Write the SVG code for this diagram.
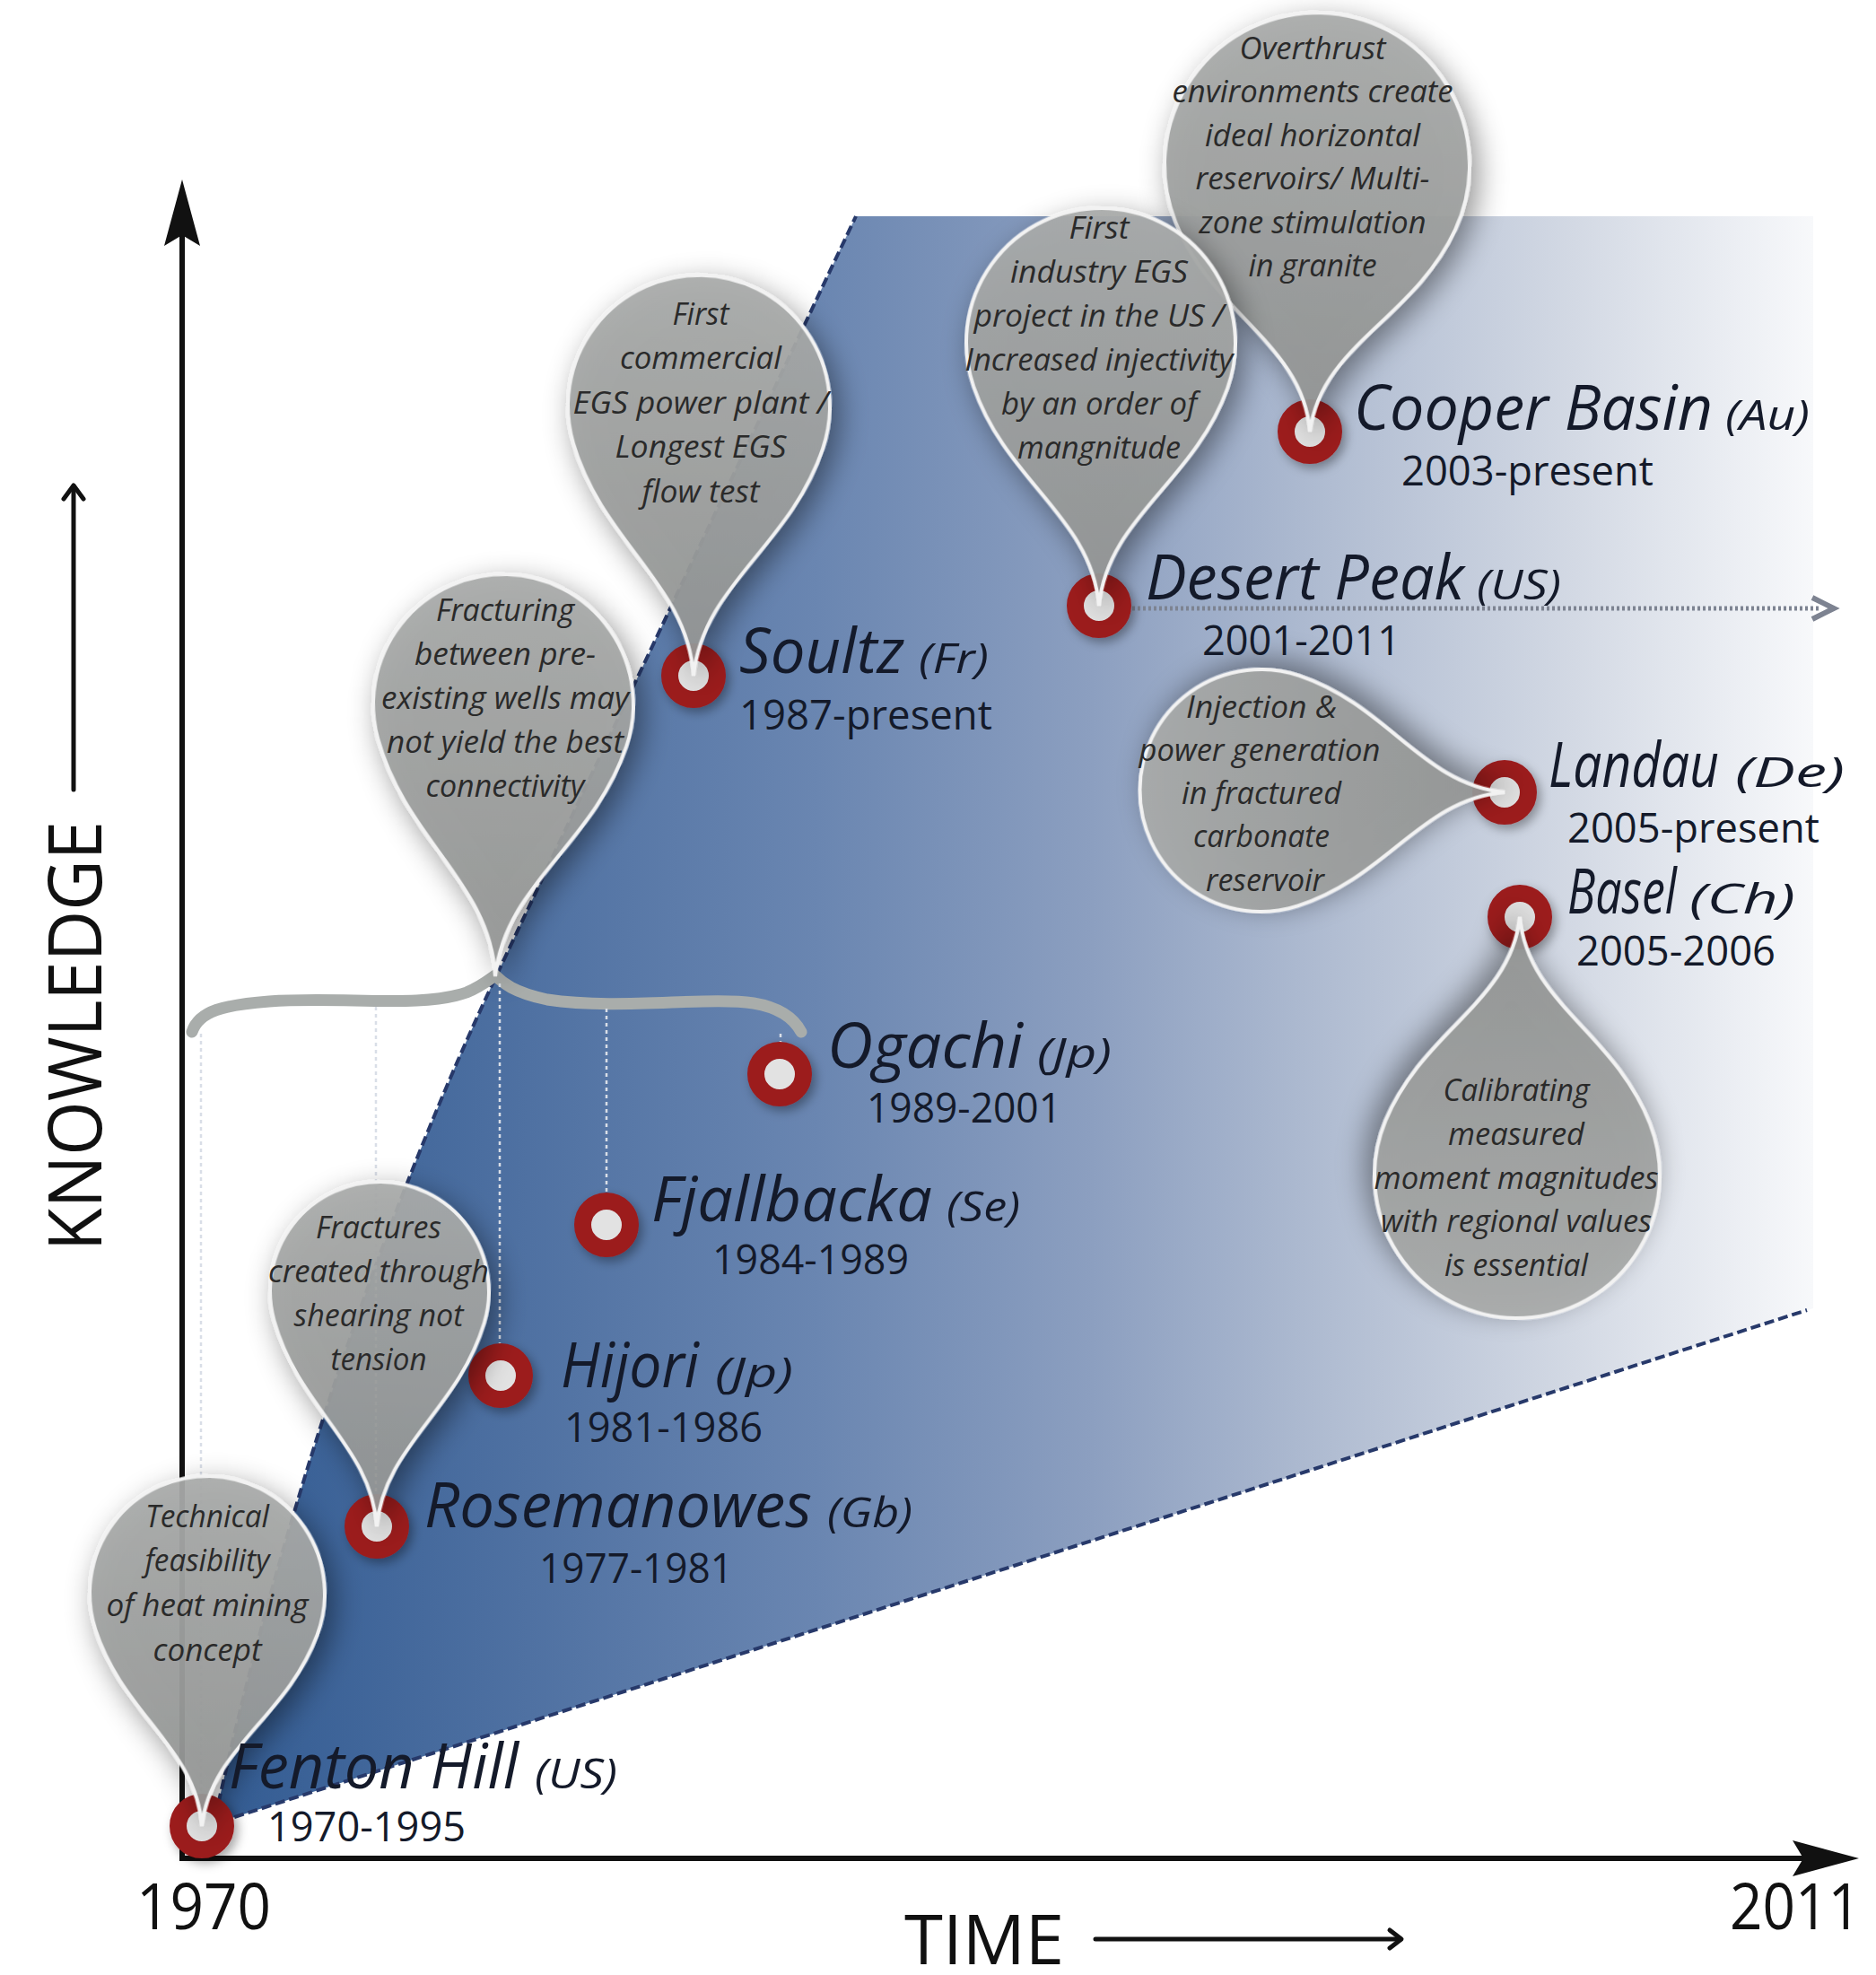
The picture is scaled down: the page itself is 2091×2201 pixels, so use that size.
<svg xmlns="http://www.w3.org/2000/svg" width="2091" height="2201" viewBox="0 0 2091 2201">
<defs>
  <linearGradient id="regionGrad" gradientUnits="userSpaceOnUse" x1="230" y1="0" x2="2025" y2="0">
    <stop offset="0" stop-color="#325b92"/>
    <stop offset="0.2" stop-color="#4f71a2"/>
    <stop offset="0.38" stop-color="#6a86b1"/>
    <stop offset="0.55" stop-color="#8c9fc0"/>
    <stop offset="0.7" stop-color="#b1bdd2"/>
    <stop offset="0.85" stop-color="#d3d9e4"/>
    <stop offset="1" stop-color="#f8f9fb"/>
  </linearGradient>
  <linearGradient id="balloonGrad" x1="0" y1="0" x2="0" y2="1">
    <stop offset="0" stop-color="#a9abaa"/>
    <stop offset="1" stop-color="#939594"/>
  </linearGradient>
  <filter id="shadow" x="-40%" y="-40%" width="180%" height="180%">
    <feDropShadow dx="8" dy="10" stdDeviation="16" flood-color="#000" flood-opacity="0.45"/>
  </filter>
  <filter id="ringShadow" x="-50%" y="-50%" width="200%" height="200%">
    <feDropShadow dx="4" dy="5" stdDeviation="6" flood-color="#000" flood-opacity="0.35"/>
  </filter>
</defs>
<style>
  .axis { stroke:#111; stroke-width:6; fill:none; }
  .axisHead { fill:#111; }
  .thin { stroke:#111; stroke-width:5; fill:none; stroke-linecap:round; stroke-linejoin:round; }
  .axisLabel { font-family:"Open Sans","Liberation Sans",sans-serif; fill:#111; }
  .bound { stroke:#27396a; stroke-width:4; stroke-dasharray:11 5; fill:none; }
  .ring { fill:#e2e2e2; stroke:#9c1b1e; stroke-width:19; filter:url(#ringShadow); }
  .balloon { fill:url(#balloonGrad); fill-opacity:0.93; stroke:#f2f2f2; stroke-width:4; filter:url(#shadow); }
  .note { font-family:"Open Sans","Liberation Sans",sans-serif; font-style:italic; font-size:35px; fill:#2a2a2a; text-anchor:middle; }
  .name { font-family:"Open Sans","Liberation Sans",sans-serif; font-style:italic; font-size:70px; fill:#141a2a; }
  .code { font-family:"Open Sans","Liberation Sans",sans-serif; font-style:italic; font-size:46px; fill:#141a2a; }
  .date { font-family:"Open Sans","Liberation Sans",sans-serif; font-size:46px; fill:#141a2a; }
  .drop { stroke:#d9dee7; stroke-width:2.5; stroke-dasharray:4 4; fill:none; }
  .brace { stroke:#a9adab; stroke-width:13; fill:none; stroke-linecap:round; stroke-linejoin:round; }
  .trend { stroke:#7d8391; stroke-width:5; stroke-dasharray:3 3; fill:none; }
</style>

<rect x="0" y="0" width="2091" height="2201" fill="#ffffff"/>

<!-- knowledge region -->
<g id="region">
  <path d="M240,2025 C306,1725 411,1390 552,1090 L954,241 L2021,241 L2021,1458 L246,2030 Z" fill="url(#regionGrad)"/>
  <path class="bound" d="M240,2025 C306,1725 411,1390 552,1090 L954,241"/>
  <path class="bound" d="M246,2030 L2014,1460"/>
</g>

<!-- axes -->
<g id="axes">
  <line class="axis" x1="203" y1="262" x2="203" y2="2071"/>
  <path class="axisHead" d="M203,200 L223,274 L203,262 L183,274 Z"/>
  <line class="axis" x1="200" y1="2071" x2="2010" y2="2071"/>
  <path class="axisHead" d="M2072,2071 L1998,2091 L2010,2071 L1998,2051 Z"/>
  <text class="axisLabel" x="152" y="2150" font-size="72" textLength="150" lengthAdjust="spacingAndGlyphs">1970</text>
  <text class="axisLabel" x="1928" y="2150" font-size="72" textLength="146" lengthAdjust="spacingAndGlyphs">2011</text>
  <text class="axisLabel" x="1008" y="2189" font-size="76" textLength="178" lengthAdjust="spacingAndGlyphs">TIME</text>
  <line class="thin" x1="1221" y1="2161" x2="1561" y2="2161"/>
  <path class="thin" d="M1549,2151 L1562,2161 L1549,2171"/>
  <text class="axisLabel" transform="translate(113,1394) rotate(-90)" x="0" y="0" font-size="82" textLength="479" lengthAdjust="spacingAndGlyphs">KNOWLEDGE</text>
  <line class="thin" x1="82" y1="880" x2="82" y2="542"/>
  <path class="thin" d="M71,556 L82,541 L93,556"/>
</g>

<!-- connectors -->
<g id="connectors">
  <path class="brace" d="M214,1150 C222,1126 250,1120 300,1116 C380,1110 470,1124 520,1106 C535,1100 545,1092 552,1087 C560,1095 572,1106 610,1114 C690,1126 790,1110 840,1118 C870,1123 885,1135 893,1150"/>
  <line class="drop" x1="224" y1="1152" x2="224" y2="2000"/>
  <line class="drop" x1="419" y1="1122" x2="419" y2="1666"/>
  <line class="drop" x1="557" y1="1096" x2="557" y2="1497"/>
  <line class="drop" x1="676" y1="1124" x2="676" y2="1329"/>
  <line class="drop" x1="870" y1="1152" x2="870" y2="1162"/>
  <line class="trend" x1="1262" y1="678" x2="2030" y2="678"/>
  <path d="M2020,666 L2044,678 L2020,690" fill="none" stroke="#7d8391" stroke-width="6"/>
</g>

<!-- rings -->
<g id="node-fenton-hill-ring"><circle class="ring" cx="225" cy="2035" r="26.5"/></g>
<g id="node-rosemanowes-ring"><circle class="ring" cx="420" cy="1701" r="26.5"/></g>
<g id="node-hijori-ring"><circle class="ring" cx="558" cy="1533" r="26.5"/></g>
<g id="node-fjallbacka-ring"><circle class="ring" cx="676" cy="1365" r="26.5"/></g>
<g id="node-ogachi-ring"><circle class="ring" cx="869" cy="1197" r="26.5"/></g>
<g id="node-soultz-ring"><circle class="ring" cx="773" cy="753" r="26.5"/></g>
<g id="node-desert-peak-ring"><circle class="ring" cx="1225" cy="675" r="26.5"/></g>
<g id="node-cooper-basin-ring"><circle class="ring" cx="1460" cy="481" r="26.5"/></g>
<g id="node-landau-ring"><circle class="ring" cx="1677" cy="883" r="26.5"/></g>
<g id="node-basel-ring"><circle class="ring" cx="1694" cy="1022" r="26.5"/></g>

<!-- callouts -->
<g id="callout-fenton-hill">
  <path class="balloon" transform="translate(231,1776) rotate(1.34)" d="M0,259 C-7.9,172.5 -91.3,136.4 -123.7,43 A131,131 0 1 1 123.7,43 C91.3,136.4 7.9,172.5 0,259 Z"/>
  <text class="note" x="231" y="1702" textLength="138" lengthAdjust="spacingAndGlyphs">Technical</text>
  <text class="note" x="231" y="1751" textLength="139" lengthAdjust="spacingAndGlyphs">feasibility</text>
  <text class="note" x="231" y="1801" textLength="225" lengthAdjust="spacingAndGlyphs">of heat mining</text>
  <text class="note" x="231" y="1851" textLength="121" lengthAdjust="spacingAndGlyphs">concept</text>
</g>
<g id="callout-rosemanowes">
  <path class="balloon" transform="translate(423,1439) rotate(0.66)" d="M0,262 C-7.3,172.4 -88.3,132.6 -117.1,34.3 A122,122 0 1 1 117.1,34.3 C88.3,132.6 7.3,172.4 0,262 Z"/>
  <text class="note" x="422" y="1380" textLength="140" lengthAdjust="spacingAndGlyphs">Fractures</text>
  <text class="note" x="422" y="1429" textLength="246" lengthAdjust="spacingAndGlyphs">created through</text>
  <text class="note" x="422" y="1478" textLength="189" lengthAdjust="spacingAndGlyphs">shearing not</text>
  <text class="note" x="422" y="1527" textLength="107" lengthAdjust="spacingAndGlyphs">tension</text>
</g>
<g id="callout-fracturing">
  <path class="balloon" transform="translate(561,785) rotate(1.7)" d="M0,303 C-8.7,199.2 -103.7,155.1 -138.5,42.9 A145,145 0 1 1 138.5,42.9 C103.7,155.1 8.7,199.2 0,303 Z"/>
  <text class="note" x="563" y="692" textLength="154" lengthAdjust="spacingAndGlyphs">Fracturing</text>
  <text class="note" x="563" y="741" textLength="202" lengthAdjust="spacingAndGlyphs">between pre-</text>
  <text class="note" x="563" y="790" textLength="276" lengthAdjust="spacingAndGlyphs">existing wells may</text>
  <text class="note" x="563" y="839" textLength="264" lengthAdjust="spacingAndGlyphs">not yield the best</text>
  <text class="note" x="563" y="888" textLength="177" lengthAdjust="spacingAndGlyphs">connectivity</text>
</g>
<g id="callout-soultz">
  <path class="balloon" transform="translate(779,453) rotate(1.15)" d="M0,300 C-8.8,198 -103.9,155.1 -139.1,44.1 A146,146 0 1 1 139.1,44.1 C103.9,155.1 8.8,198 0,300 Z"/>
  <text class="note" x="781" y="362" textLength="63" lengthAdjust="spacingAndGlyphs">First</text>
  <text class="note" x="781" y="411" textLength="180" lengthAdjust="spacingAndGlyphs">commercial</text>
  <text class="note" x="781" y="461" textLength="285" lengthAdjust="spacingAndGlyphs">EGS power plant /</text>
  <text class="note" x="781" y="510" textLength="191" lengthAdjust="spacingAndGlyphs">Longest EGS</text>
  <text class="note" x="781" y="560" textLength="131" lengthAdjust="spacingAndGlyphs">flow test</text>
</g>
<g id="callout-cooper-basin">
  <path class="balloon" transform="translate(1468,184) rotate(1.54)" d="M0,297 C-10.2,199.9 -112,169.4 -156.1,67.5 A170,170 0 1 1 156.1,67.5 C112,169.4 10.2,199.9 0,297 Z"/>
  <text class="note" x="1463" y="66" textLength="163" lengthAdjust="spacingAndGlyphs">Overthrust</text>
  <text class="note" x="1463" y="114" textLength="313" lengthAdjust="spacingAndGlyphs">environments create</text>
  <text class="note" x="1463" y="163" textLength="240" lengthAdjust="spacingAndGlyphs">ideal horizontal</text>
  <text class="note" x="1463" y="211" textLength="261" lengthAdjust="spacingAndGlyphs">reservoirs/ Multi-</text>
  <text class="note" x="1463" y="260" textLength="253" lengthAdjust="spacingAndGlyphs">zone stimulation</text>
  <text class="note" x="1463" y="308" textLength="143" lengthAdjust="spacingAndGlyphs">in granite</text>
</g>
<g id="callout-desert-peak">
  <path class="balloon" transform="translate(1227,382) rotate(0.4)" d="M0,293 C-9,194.5 -104.1,156 -141.5,49.8 A150,150 0 1 1 141.5,49.8 C104.1,156 9,194.5 0,293 Z"/>
  <text class="note" x="1225" y="266" textLength="67" lengthAdjust="spacingAndGlyphs">First</text>
  <text class="note" x="1225" y="315" textLength="198" lengthAdjust="spacingAndGlyphs">industry EGS</text>
  <text class="note" x="1225" y="364" textLength="279" lengthAdjust="spacingAndGlyphs">project in the US /</text>
  <text class="note" x="1225" y="413" textLength="299" lengthAdjust="spacingAndGlyphs">Increased injectivity</text>
  <text class="note" x="1225" y="462" textLength="218" lengthAdjust="spacingAndGlyphs">by an order of</text>
  <text class="note" x="1225" y="511" textLength="182" lengthAdjust="spacingAndGlyphs">mangnitude</text>
</g>
<g id="callout-landau">
  <path class="balloon" transform="translate(1405,881) rotate(-89.6)" d="M0,272 C-8.1,180 -95.3,142.3 -128.3,42.4 A135,135 0 1 1 128.3,42.4 C95.3,142.3 8.1,180 0,272 Z"/>
  <text class="note" x="1406" y="800" textLength="168" lengthAdjust="spacingAndGlyphs">Injection &amp;</text>
  <text class="note" x="1404" y="848" textLength="269" lengthAdjust="spacingAndGlyphs">power generation</text>
  <text class="note" x="1406" y="896" textLength="178" lengthAdjust="spacingAndGlyphs">in fractured</text>
  <text class="note" x="1406" y="944" textLength="152" lengthAdjust="spacingAndGlyphs">carbonate</text>
  <text class="note" x="1410" y="993" textLength="132" lengthAdjust="spacingAndGlyphs">reservoir</text>
</g>
<g id="callout-basel">
  <path class="balloon" transform="translate(1691,1310) rotate(180.6)" d="M0,288 C-9.5,192.9 -106.6,160.4 -147.4,59.6 A159,159 0 1 1 147.4,59.6 C106.6,160.4 9.5,192.9 0,288 Z"/>
  <text class="note" x="1690" y="1227" textLength="163" lengthAdjust="spacingAndGlyphs">Calibrating</text>
  <text class="note" x="1690" y="1276" textLength="152" lengthAdjust="spacingAndGlyphs">measured</text>
  <text class="note" x="1690" y="1325" textLength="317" lengthAdjust="spacingAndGlyphs">moment magnitudes</text>
  <text class="note" x="1690" y="1373" textLength="302" lengthAdjust="spacingAndGlyphs">with regional values</text>
  <text class="note" x="1690" y="1422" textLength="160" lengthAdjust="spacingAndGlyphs">is essential</text>
</g>

<!-- node labels -->
<g id="node-fenton-hill">
  <text class="name" x="255" y="1993" textLength="323" lengthAdjust="spacingAndGlyphs">Fenton Hill</text>
  <text class="code" x="596" y="1993" textLength="92" lengthAdjust="spacingAndGlyphs">(US)</text>
  <text class="date" x="298" y="2052" textLength="221" lengthAdjust="spacingAndGlyphs">1970-1995</text>
</g>
<g id="node-rosemanowes">
  <text class="name" x="473" y="1702" textLength="432" lengthAdjust="spacingAndGlyphs">Rosemanowes</text>
  <text class="code" x="922" y="1702" textLength="95" lengthAdjust="spacingAndGlyphs">(Gb)</text>
  <text class="date" x="601" y="1764" textLength="216" lengthAdjust="spacingAndGlyphs">1977-1981</text>
</g>
<g id="node-hijori">
  <text class="name" x="625" y="1546" textLength="154" lengthAdjust="spacingAndGlyphs">Hijori</text>
  <text class="code" x="797" y="1546" textLength="87" lengthAdjust="spacingAndGlyphs">(Jp)</text>
  <text class="date" x="629" y="1607" textLength="221" lengthAdjust="spacingAndGlyphs">1981-1986</text>
</g>
<g id="node-fjallbacka">
  <text class="name" x="726" y="1361" textLength="313" lengthAdjust="spacingAndGlyphs">Fjallbacka</text>
  <text class="code" x="1055" y="1361" textLength="82" lengthAdjust="spacingAndGlyphs">(Se)</text>
  <text class="date" x="794" y="1420" textLength="219" lengthAdjust="spacingAndGlyphs">1984-1989</text>
</g>
<g id="node-ogachi">
  <text class="name" x="922" y="1190" textLength="218" lengthAdjust="spacingAndGlyphs">Ogachi</text>
  <text class="code" x="1156" y="1190" textLength="83" lengthAdjust="spacingAndGlyphs">(Jp)</text>
  <text class="date" x="966" y="1251" textLength="217" lengthAdjust="spacingAndGlyphs">1989-2001</text>
</g>
<g id="node-soultz">
  <text class="name" x="824" y="750" textLength="184" lengthAdjust="spacingAndGlyphs">Soultz</text>
  <text class="code" x="1024" y="750" textLength="78" lengthAdjust="spacingAndGlyphs">(Fr)</text>
  <text class="date" x="824" y="813" textLength="282" lengthAdjust="spacingAndGlyphs">1987-present</text>
</g>
<g id="node-desert-peak">
  <text class="name" x="1277" y="668" textLength="355" lengthAdjust="spacingAndGlyphs">Desert Peak</text>
  <text class="code" x="1646" y="668" textLength="94" lengthAdjust="spacingAndGlyphs">(US)</text>
  <text class="date" x="1340" y="730" textLength="221" lengthAdjust="spacingAndGlyphs">2001-2011</text>
</g>
<g id="node-cooper-basin">
  <text class="name" x="1509" y="479" textLength="400" lengthAdjust="spacingAndGlyphs">Cooper Basin</text>
  <text class="code" x="1923" y="479" textLength="94" lengthAdjust="spacingAndGlyphs">(Au)</text>
  <text class="date" x="1562" y="541" textLength="281" lengthAdjust="spacingAndGlyphs">2003-present</text>
</g>
<g id="node-landau">
  <text class="name" x="1726" y="877" textLength="190" lengthAdjust="spacingAndGlyphs">Landau</text>
  <text class="code" x="1934" y="877" textLength="122" lengthAdjust="spacingAndGlyphs">(De)</text>
  <text class="date" x="1747" y="939" textLength="281" lengthAdjust="spacingAndGlyphs">2005-present</text>
</g>
<g id="node-basel">
  <text class="name" x="1747" y="1018" textLength="122" lengthAdjust="spacingAndGlyphs">Basel</text>
  <text class="code" x="1883" y="1018" textLength="118" lengthAdjust="spacingAndGlyphs">(Ch)</text>
  <text class="date" x="1757" y="1076" textLength="222" lengthAdjust="spacingAndGlyphs">2005-2006</text>
</g>
</svg>
